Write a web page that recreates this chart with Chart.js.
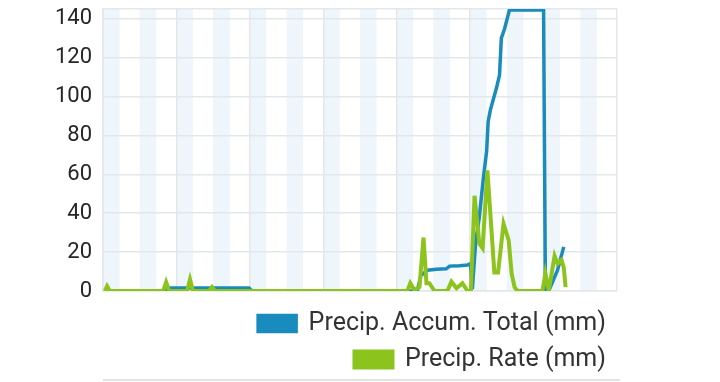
<!DOCTYPE html>
<html>
<head>
<meta charset="utf-8">
<script src="https://cdn.jsdelivr.net/npm/chart.js@4/dist/chart.umd.min.js"></script>
<style>
  body { margin: 0; background: #fff; }
  #wrap { position: relative; width: 720px; height: 382px; }
  #rule { position: absolute; left: 103px; top: 379px; width: 517px; height: 2px; background: #e2e2e2; }
</style>
</head>
<body>
<div id="wrap">
  <canvas id="myChart" width="720" height="382"></canvas>
  <div id="rule"></div>
</div>
<script>
// x is in half-grid units (0..14), grid line every 2
let accumX = [0.05, 1.66, 1.75, 3.98, 4.06, 8.56, 8.66, 8.84, 9.08, 9.35, 9.44, 9.71, 9.93, 10.01, 10.06, 10.15, 10.25, 10.36, 10.45, 10.49, 10.55, 10.72, 10.80, 10.85, 10.94, 11.07, 12.00, 12.05, 12.14, 12.38, 12.55];
let accumVals = [0, 0, 1.5, 1.5, 0, 0, 8, 10.7, 11.2, 11.4, 12.8, 13, 13.4, 14, 1, 25, 38, 58, 72, 87, 93, 104.6, 111, 130, 135, 144.5, 144.5, 0, 0, 10.7, 22.7];

let rateX = [0.05, 0.11, 0.19, 1.64, 1.72, 1.80, 2.29, 2.37, 2.45, 2.89, 2.97, 3.05, 8.29, 8.37, 8.48, 8.62, 8.73, 8.81, 8.89, 9.03, 9.38, 9.49, 9.63, 9.79, 9.93, 10.02, 10.12, 10.25, 10.34, 10.47, 10.66, 10.76, 10.91, 11.05, 11.13, 11.21, 11.29, 11.97, 12.05, 12.14, 12.30, 12.38, 12.49, 12.55, 12.60];
let rateVals = [0, 2.5, 0, 0, 4.5, 0, 0, 6, 0, 0, 2, 0, 0, 4, 0.5, 2, 27.5, 4, 4, 0, 0, 4.8, 1.4, 4, 0, 0, 49, 24.4, 22, 62, 9.5, 9.5, 34.6, 26, 9, 2, 0, 0, 9, 0, 18, 14, 16, 12, 2];

let yTicks = [0, 20, 40, 60, 80, 100, 120, 140, 145];
let bandStarts = [0, 1, 2, 3, 4, 5, 6, 7, 8, 9, 10, 11, 12, 13];
let bandWidth = 0.45;

function toPoints(xs, ys) {
    return xs.map((x, i) => ({x: x, y: ys[i]}));
}

// light blue stripes behind the grid
const bands = {
    id: 'bands',
    beforeDraw(chart) {
        let ctx = chart.ctx;
        let area = chart.chartArea;
        let xs = chart.scales.x;
        ctx.save();
        ctx.fillStyle = '#eef5fb';
        bandStarts.forEach((b) => {
            let x0 = xs.getPixelForValue(b);
            let x1 = xs.getPixelForValue(b + bandWidth);
            ctx.fillRect(x0, area.top, x1 - x0, area.bottom - area.top);
        });
        ctx.restore();
    }
};

Chart.defaults.font.family = 'Roboto';

var ctx = document.getElementById('myChart').getContext('2d');
var chart = new Chart(ctx, {
    type: 'line',
    data: {
        datasets: [{
            label: 'Precip. Accum. Total (mm)',
            data: toPoints(accumX, accumVals),
            borderColor: '#1a8bbd',
            backgroundColor: '#1a8bbd',
            borderWidth: 3.5,
            pointRadius: 0,
            tension: 0,
            order: 1
        }, {
            label: 'Precip. Rate (mm)',
            data: toPoints(rateX, rateVals),
            borderColor: '#8cc31c',
            backgroundColor: '#8cc31c',
            borderWidth: 4,
            pointRadius: 0,
            tension: 0,
            order: 0
        }]
    },
    options: {
        responsive: false,
        animation: false,
        layout: { padding: { left: 56, right: 103, top: 9, bottom: 0 } },
        plugins: {
            tooltip: { enabled: false },
            legend: {
                position: 'bottom',
                align: 'end',
                labels: {
                    boxWidth: 38,
                    boxHeight: 16,
                    padding: 11,
                    color: '#333',
                    font: { size: 25 },
                    sort: (a, b) => a.datasetIndex - b.datasetIndex
                }
            }
        },
        scales: {
            x: {
                type: 'linear',
                min: 0,
                max: 14,
                ticks: { display: false, stepSize: 2 },
                grid: { color: '#e4e7ea', lineWidth: 1.5, drawTicks: false },
                border: { color: '#e4e7ea', width: 1.5 },
                afterFit: (s) => { s.height = 9; s.paddingLeft = 0; s.paddingRight = 0; }
            },
            y: {
                min: 0,
                max: 145,
                afterBuildTicks: (axis) => { axis.ticks = yTicks.map((v) => ({value: v})); },
                ticks: {
                    padding: 11,
                    color: '#262626',
                    font: { size: 22 },
                    callback: (v) => (v % 20 === 0 ? v : '')
                },
                grid: { color: '#e4e7ea', lineWidth: 1.5, drawTicks: false },
                border: { color: '#e4e7ea', width: 1.5 },
                afterFit: (s) => { s.width = 47; s.paddingTop = 0; s.paddingBottom = 0; }
            }
        }
    },
    plugins: [bands]
});
</script>
</body>
</html>
